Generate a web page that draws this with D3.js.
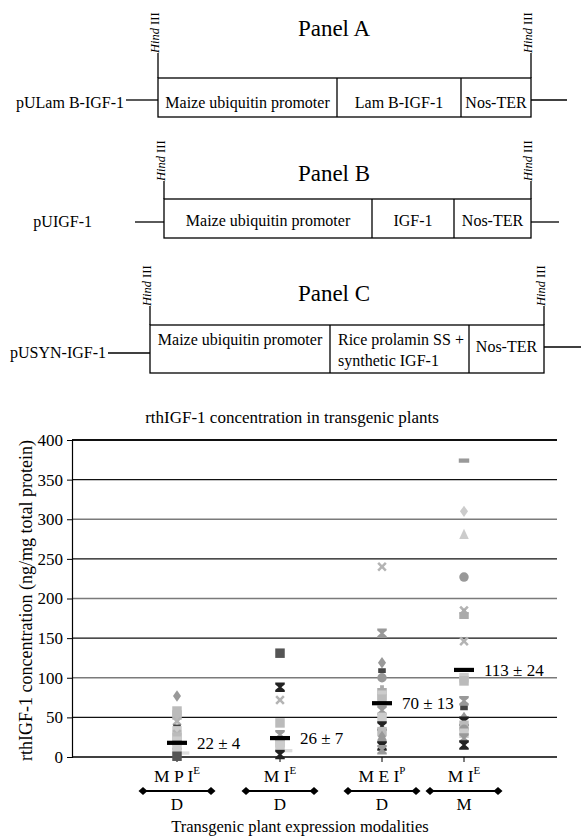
<!DOCTYPE html>
<html><head><meta charset="utf-8">
<script src="https://cdn.jsdelivr.net/npm/d3@7"></script>
<style>body{margin:0;background:#fff}svg text{font-family:"Liberation Serif","Times New Roman","DejaVu Serif",serif}</style>
</head><body><svg id="c" width="581" height="838"></svg>
<script>
// ---------- DATA ----------
const panelTitles = ["Panel A", "Panel B", "Panel C"];
const constructNames = ["pULam B-IGF-1", "pUIGF-1", "pUSYN-IGF-1"];
const segA = ["Maize ubiquitin promoter", "Lam B-IGF-1", "Nos-TER"];
const segB = ["Maize ubiquitin promoter", "IGF-1", "Nos-TER"];
const segC = ["Maize ubiquitin promoter", "Rice prolamin SS +|synthetic IGF-1", "Nos-TER"];
const segLenA = [179, 124, 70];
const segLenB = [208, 82, 77];
const segLenC = [180, 139, 75];
const siteLabel = "III";

const chartTitle = "rthIGF-1 concentration in transgenic plants";
const yTitle = "rthIGF-1 concentration (ng/mg total protein)";
const xTitle = "Transgenic plant expression modalities";
const yTicks = [0, 50, 100, 150, 200, 250, 300, 350, 400];
const groups = ["g1", "g2", "g3", "g4"];
const groupMain = ["M P I", "M I", "M E I", "M I"];
const groupSup = ["E", "E", "P", "E"];
const groupSub = ["D", "D", "D", "M"];

const g1Values = [77, 58, 53, 45, 38, 33, 29, 25, 20, 15, 10, 5, 1];
const g1Series = [0, 1, 1, 3, 7, 12, 3, 1, 12, 10, 12, 9, 8];
const g2Values = [131, 88, 72, 43, 28, 22, 18, 14, 8, 3];
const g2Series = [8, 4, 3, 1, 10, 5, 1, 12, 9, 4];
const g3Values = [240, 156, 119, 109, 100, 84, 78, 73, 59, 50, 39, 32, 26, 20, 14, 9];
const g3Series = [3, 10, 0, 7, 5, 11, 12, 1, 10, 12, 4, 1, 0, 5, 4, 10];
const g4Values = [374, 310, 281, 227, 185, 180, 146, 100, 96, 71, 62, 50, 45, 40, 35, 30, 24, 15];
const g4Series = [6, 13, 2, 5, 3, 11, 3, 12, 1, 10, 7, 0, 4, 1, 5, 12, 10, 4];
const meanBar = [18, 24, 68, 110];
const meanLabels = ["22 ± 4", "26 ± 7", "70 ± 13", "113 ± 24"];

// ---------- STYLES ----------
const svg = d3.select("#c");

function markerPath(type, s) {
  const h = s / 2;
  switch (type) {
    case "diamond": return `M0,${-h*1.2}L${h*0.85},0L0,${h*1.2}L${-h*0.85},0Z`;
    case "square": return `M${-h},${-h}H${h}V${h}H${-h}Z`;
    case "triangle": return `M0,${-h*1.15}L${h},${h}H${-h}Z`;
    case "x": { const t = h*0.38; return `M${-h},${-h+t}L${-h+t},${-h}L0,${-t}L${h-t},${-h}L${h},${-h+t}L${t},0L${h},${h-t}L${h-t},${h}L0,${t}L${-h+t},${h}L${-h},${h-t}L${-t},0Z`; }
    case "hourglass": return `M${-h},${-h}H${h}V${-h*0.6}L${h*0.3},0L${h},${h*0.6}V${h}H${-h}V${h*0.6}L${-h*0.3},0L${-h},${-h*0.6}Z`;
    case "circle": return d3.symbol(d3.symbolCircle, s*s*0.78)();
    case "dash": return `M${-h*1.1},${-h*0.45}H${h*1.1}V${h*0.45}H${-h*1.1}Z`;
    case "smallrect": return `M${-h*0.8},${-h*0.5}H${h*0.8}V${h*0.5}H${-h*0.8}Z`;
    case "widebar": return `M${-h},${-h*0.35}H${h*2.6}V${h*0.35}H${-h}Z`;
    case "bottle": return `M${-h},${-h*0.5}H${h}V${h}H${-h}ZM${-h*0.4},${-h*1.1}H${h*0.4}V${-h*0.5}H${-h*0.4}Z`;
  }
}
const seriesStyle = [
  {t: "diamond", c: "#999"},   // 0
  {t: "square", c: "#bbb"},    // 1
  {t: "triangle", c: "#ccc"},  // 2
  {t: "x", c: "#b4b4b4"},      // 3
  {t: "hourglass", c: "#222"}, // 4
  {t: "circle", c: "#999"},    // 5
  {t: "dash", c: "#999"},      // 6
  {t: "smallrect", c: "#444"}, // 7
  {t: "square", c: "#555"},    // 8
  {t: "widebar", c: "#ddd"},   // 9
  {t: "hourglass", c: "#999"}, // 10
  {t: "bottle", c: "#aaa"},    // 11
  {t: "square", c: "#ccc"},    // 12
  {t: "diamond", c: "#ccc"}    // 13
];

// ---------- PANELS (construct diagrams) ----------
const panels = [
  {title: panelTitles[0], name: constructNames[0], segs: segA, lens: segLenA,
   titleY: 36, x0: 158, top: 78, bot: 117, lineL: 100, lineR: 100, leftLine: 126, rightLine: 567,
   nameX: 124, nameY: 108, textY: [108, 108, 108], siteTop: 53},
  {title: panelTitles[1], name: constructNames[1], segs: segB, lens: segLenB,
   titleY: 181, x0: 164, top: 199, bot: 238, lineL: 222, lineR: 222, leftLine: 135, rightLine: 559,
   nameX: 92, nameY: 227, textY: [226, 226, 226], siteTop: 181},
  {title: panelTitles[2], name: constructNames[2], segs: segC, lens: segLenC,
   titleY: 301, x0: 150, top: 325, bot: 373, lineL: 353, lineR: 347, leftLine: 108, rightLine: 581,
   nameX: 106, nameY: 358, textY: [345, 345, 352], siteTop: 306}
];

panels.forEach(p => {
  const g = svg.append("g");
  const total = d3.sum(p.lens);
  const ends = d3.cumsum(p.lens);
  const starts = [0, ...ends.slice(0, -1)];
  const xs = d3.scaleLinear().domain([0, total]).range([p.x0, p.x0 + total]);
  const bx0 = xs(0), bx1 = xs(total);

  g.append("text").attr("x", 334).attr("y", p.titleY).attr("text-anchor", "middle")
    .attr("font-size", 23).text(p.title);
  g.append("line").attr("x1", p.leftLine).attr("x2", bx0).attr("y1", p.lineL).attr("y2", p.lineL)
    .attr("stroke", "#000").attr("stroke-width", 1.3);
  g.append("line").attr("x1", bx1).attr("x2", p.rightLine).attr("y1", p.lineR).attr("y2", p.lineR)
    .attr("stroke", "#000").attr("stroke-width", 1.3);
  g.append("rect").attr("x", bx0).attr("y", p.top).attr("width", bx1 - bx0).attr("height", p.bot - p.top)
    .attr("fill", "none").attr("stroke", "#000").attr("stroke-width", 1.3);
  ends.slice(0, -1).forEach(e => {
    g.append("line").attr("x1", xs(e)).attr("x2", xs(e)).attr("y1", p.top).attr("y2", p.bot)
      .attr("stroke", "#000").attr("stroke-width", 1.3);
  });
  p.segs.forEach((s, i) => {
    const lines = s.split("|");
    if (lines.length === 1) {
      g.append("text").attr("x", (xs(starts[i]) + xs(ends[i])) / 2).attr("y", p.textY[i])
        .attr("text-anchor", "middle").attr("font-size", 16).text(s);
    } else {
      lines.forEach((l, k) => {
        g.append("text").attr("x", xs(starts[i]) + 8).attr("y", p.textY[i] + k * 21)
          .attr("font-size", 16).text(l);
      });
    }
  });
  g.append("text").attr("x", p.nameX).attr("y", p.nameY).attr("text-anchor", "end")
    .attr("font-size", 16).text(p.name);
  [bx0, bx1].forEach(sx => {
    g.append("line").attr("x1", sx).attr("x2", sx).attr("y1", p.top).attr("y2", p.siteTop)
      .attr("stroke", "#000").attr("stroke-width", 1.3);
    const t = g.append("text").attr("transform", `translate(${sx + 1},${p.siteTop}) rotate(-90)`)
      .attr("font-size", 12.5);
    t.append("tspan").attr("font-style", "italic").text("Hind");
    t.append("tspan").text(" " + siteLabel);
  });
});

// ---------- SCATTER CHART ----------
const plotL = 72, plotR = 557, plotT = 440, plotB = 757;
const y = d3.scaleLinear().domain([0, 400]).range([plotB, plotT]);
const x = d3.scaleOrdinal().domain(groups).range([177, 280, 382, 464]);

svg.append("text").attr("x", 292).attr("y", 423).attr("text-anchor", "middle")
  .attr("font-size", 17).text(chartTitle);

const gridColor = v => (v === 300 || v === 200 || v === 100) ? "#7a7a7a" : "#111";
svg.append("g").selectAll("line").data(yTicks.filter(v => v > 0)).join("line")
  .attr("x1", plotL).attr("x2", plotR).attr("y1", d => y(d)).attr("y2", d => y(d))
  .attr("stroke", gridColor)
  .attr("stroke-width", d => d === 400 ? 2.2 : (gridColor(d) === "#111" ? 1.1 : 1.6));

const yAxis = d3.axisLeft(y).tickValues(yTicks).tickSize(5).tickPadding(4);
const ya = svg.append("g").attr("transform", `translate(${plotL},0)`).call(yAxis);
ya.attr("font-family", null);
ya.select(".domain").attr("stroke", "#000").attr("stroke-width", 1.2);
ya.selectAll(".tick line").attr("stroke", "#000");
ya.selectAll("text").attr("font-size", 17).attr("fill", "#000");

const xa = svg.append("g").attr("transform", `translate(0,${plotB})`);
xa.append("line").attr("x1", plotL).attr("x2", plotR).attr("stroke", "#000").attr("stroke-width", 1.3);
xa.selectAll(".tk").data(groups).join("line").attr("class", "tk")
  .attr("x1", d => x(d)).attr("x2", d => x(d)).attr("y1", 0).attr("y2", 5).attr("stroke", "#000");

const allGroups = [[g1Values, g1Series], [g2Values, g2Series], [g3Values, g3Series], [g4Values, g4Series]];
const pts = [];
allGroups.forEach(([vals, ser], gi) => vals.forEach((v, i) => pts.push({g: groups[gi], v, s: ser[i]})));
svg.append("g").selectAll("path").data(pts).join("path")
  .attr("transform", d => `translate(${x(d.g)},${y(d.v)})`)
  .attr("d", d => markerPath(seriesStyle[d.s].t, 9.5))
  .attr("fill", d => seriesStyle[d.s].c);

const mg = svg.append("g");
groups.forEach((gname, i) => {
  mg.append("rect").attr("x", x(gname) - 10).attr("y", y(meanBar[i]) - 2).attr("width", 20).attr("height", 4.2)
    .attr("fill", "#000");
  mg.append("text").attr("x", x(gname) + 20).attr("y", y(meanBar[i]) + 6).attr("font-size", 17)
    .text(meanLabels[i]);
});

groups.forEach((gname, i) => {
  const cx = x(gname);
  const t = svg.append("text").attr("x", cx).attr("y", 782).attr("text-anchor", "middle").attr("font-size", 17.5);
  t.append("tspan").text(groupMain[i]);
  t.append("tspan").attr("font-size", 11).attr("dy", -8).text(groupSup[i]);
  const lw = 34;
  svg.append("line").attr("x1", cx - lw).attr("x2", cx + lw).attr("y1", 791).attr("y2", 791)
    .attr("stroke", "#000").attr("stroke-width", 2);
  [cx - lw, cx + lw].forEach(dx => {
    svg.append("path").attr("transform", `translate(${dx},791)`).attr("d", "M0,-4L4.5,0L0,4L-4.5,0Z").attr("fill", "#000");
  });
  svg.append("text").attr("x", cx).attr("y", 810).attr("text-anchor", "middle").attr("font-size", 17)
    .text(groupSub[i]);
});

svg.append("text").attr("x", 300).attr("y", 832).attr("text-anchor", "middle").attr("font-size", 16.5)
  .text(xTitle);

svg.append("text").attr("transform", `translate(32,${(plotT + plotB) / 2 + 2}) rotate(-90)`)
  .attr("text-anchor", "middle").attr("font-size", 18).text(yTitle);
</script></body></html>
